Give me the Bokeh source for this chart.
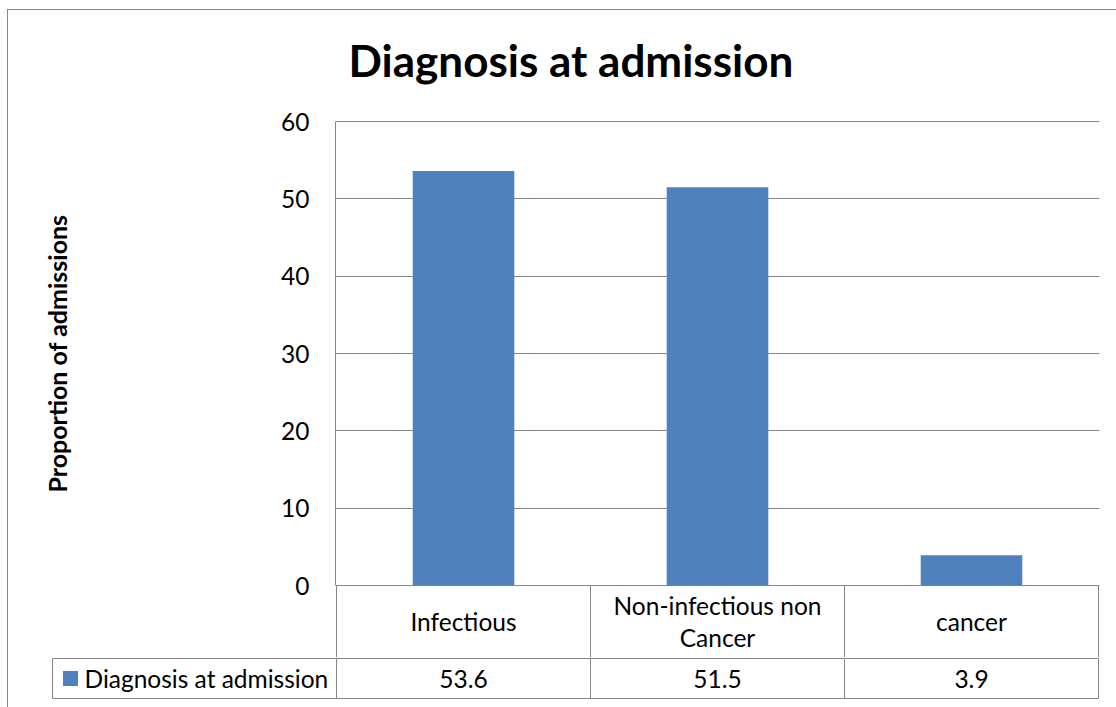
from bokeh.plotting import figure
from bokeh.layouts import column
from bokeh.models import Range1d, FixedTicker, Title
from bokeh.core.properties import value
from bokeh.embed import file_html
from bokeh.resources import INLINE

# ---- data ----
categories = ["Infectious", "Non-infectious non Cancer", "cancer"]
category_labels = ["Infectious", "Non-infectious non\nCancer", "cancer"]
values = [53.6, 51.5, 3.9]
series_name = "Diagnosis at admission"
y_ticks = [0, 10, 20, 30, 40, 50, 60]
title_text = "Diagnosis at admission"
y_title = "Proportion of admissions"

# ---- layout constants (page pixels) ----
W, H = 1116, 707
SPLIT = 657                      # top figure / bottom strip boundary
F_LEFT, F_RIGHT, F_TOP = 335, 1099, 49
Y0_PX, Y60_PX = 585, 121
X0_PX = 336
CAT_PX = 254.0
PPU = (Y0_PX - Y60_PX) / 60.0
ROW_PX = 658
TABLE_BOTTOM_PX = 698
LEG_LEFT = 52

def dx(px):
    return (px - X0_PX) / CAT_PX

def dy(py):
    return (Y0_PX - py) / PPU

FONT = "Lato"
GRID = "#868686"
BAR = "#4F81BD"
FS = "24.5px"

n = len(categories)
xs = [i + 0.5 for i in range(n)]

# ---------------- top figure: chart + category row ----------------
p = figure(width=W, height=SPLIT, output_backend="svg", toolbar_location=None,
           title=None, x_axis_location=None, frame_align=False,
           x_range=Range1d(dx(F_LEFT), dx(F_RIGHT)),
           y_range=Range1d(dy(SPLIT), dy(F_TOP)),
           min_border_left=F_LEFT, min_border_right=W - F_RIGHT,
           min_border_top=F_TOP, min_border_bottom=0)
p.outline_line_color = None
p.background_fill_color = None
p.border_fill_color = None

p.add_layout(Title(text=title_text, align="left", offset=13, standoff=-72,
                   text_font=FONT, text_font_size="44px", text_font_style="bold",
                   text_color="black"), "above")

bars = p.vbar(x=xs, top=values, bottom=0, width=0.4, fill_color=BAR, line_color=None)

ax = p.yaxis[0]
ax.ticker = FixedTicker(ticks=y_ticks)
ax.bounds = (min(y_ticks), max(y_ticks))
ax.axis_line_color = GRID
ax.major_tick_line_color = None
ax.minor_tick_line_color = None
ax.major_tick_out = 0
ax.major_tick_in = 0
ax.major_label_standoff = 26
ax.major_label_text_font = FONT
ax.major_label_text_font_size = FS
ax.major_label_text_color = "black"
ax.axis_label = y_title
ax.axis_label_text_font = FONT
ax.axis_label_text_font_size = "25px"
ax.axis_label_text_font_style = "bold"
ax.axis_label_text_color = "black"
ax.axis_label_standoff = 206

p.xgrid.visible = False
p.ygrid.ticker = FixedTicker(ticks=y_ticks)
p.ygrid.grid_line_color = GRID
p.ygrid.grid_line_width = 1

# category row lines
p.segment(x0=list(range(n + 1)), y0=[0] * (n + 1), x1=list(range(n + 1)), y1=[dy(SPLIT)] * (n + 1),
          line_color=GRID, line_width=1)
p.text(x=xs, y=[dy(621)] * n, text=category_labels, text_align="center", text_baseline="middle",
       text_font=value(FONT), text_font_size=FS, text_color="black", text_line_height=1.1)

# ---------------- bottom strip: data table row with legend key ----------------
b = figure(width=W, height=H - SPLIT, output_backend="svg", toolbar_location=None,
           title=None, x_axis_location=None, y_axis_location=None, frame_align=False,
           x_range=Range1d(dx(0), dx(W)), y_range=Range1d(dy(H), dy(SPLIT)),
           min_border_left=0, min_border_right=0, min_border_top=0, min_border_bottom=0)
b.outline_line_color = None
b.background_fill_color = None
b.border_fill_color = None
b.xgrid.visible = False
b.ygrid.visible = False

yr, yb = dy(ROW_PX), dy(TABLE_BOTTOM_PX)
vx = [dx(LEG_LEFT)] + list(range(n + 1))
b.segment(x0=vx, y0=[yr] * len(vx), x1=vx, y1=[yb] * len(vx), line_color=GRID, line_width=1)
b.segment(x0=[dx(LEG_LEFT)] * 2, y0=[yr, yb], x1=[n, n], y1=[yr, yb], line_color=GRID, line_width=1)
b.rect(x=[dx(70)], y=[dy(678)], width=15 / CAT_PX, height=15 / PPU, fill_color=BAR, line_color=None)
b.text(x=[dx(84)], y=[dy(678)], text=[series_name], text_align="left", text_baseline="middle",
       text_font=value(FONT), text_font_size=FS, text_color="black")
b.text(x=xs, y=[dy(678)] * n, text=[f"{v:.1f}" for v in values], text_align="center",
       text_baseline="middle", text_font=value(FONT), text_font_size=FS, text_color="black")

layout = column(p, b, spacing=0, styles={
    "background": "linear-gradient(#868686,#868686) 7px 9px / 1px 100% no-repeat, "
                  "linear-gradient(#868686,#868686) 7px 9px / 100% 1px no-repeat, white"})

open("out.html", "w").write(file_html(layout, INLINE))
